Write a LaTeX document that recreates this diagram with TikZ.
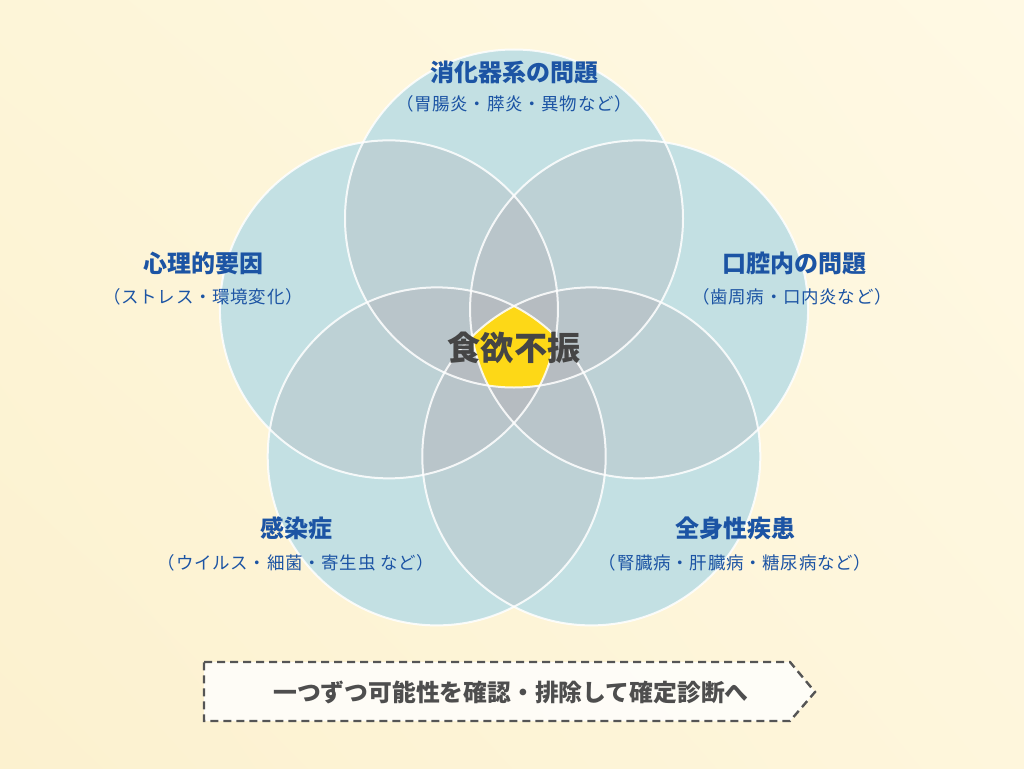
\documentclass[tikz,border=0pt]{standalone}
\usepackage{fontspec}
\setmainfont{Noto Sans CJK JP}
\usepackage{xcolor}
\usetikzlibrary{shadings}
\definecolor{bgTL}{HTML}{FDF5D8}
\definecolor{bgTR}{HTML}{FFF9E4}
\definecolor{bgBL}{HTML}{FCF1CF}
\definecolor{bgBR}{HTML}{FEF6DC}
\definecolor{pBase}{RGB}{202,244,245}
\definecolor{pShade}{RGB}{172,157,164}
\definecolor{pYellow}{HTML}{FDD817}
\definecolor{pBlue}{HTML}{1C54A4}
\definecolor{pGray}{HTML}{454545}
\definecolor{pDash}{HTML}{555555}

\begin{document}
\begin{tikzpicture}[x=1pt,y=-1pt]
    \pgfmathsetmacro{\dist}{131.5}	%centre to circle centre
	\pgfmathsetmacro{\rad}{169}	%circle radius
    \tikzset{
        title/.style={text=pBlue, inner sep=0pt, font=\fontsize{24}{28}\selectfont\bfseries},
        subtitle/.style={text=pBlue, inner sep=0pt, font=\fontsize{17.5}{20}\selectfont\addfontfeature{LetterSpace=4}},
        ring/.style={draw=white, draw opacity=0.85, line width=2pt},
        stepbox/.style={draw=pDash, line width=2.4pt, dash pattern=on 8pt off 5pt, fill=white, fill opacity=0.8},
        steptext/.style={text=pGray!95, inner sep=0pt, font=\fontsize{23.8}{28}\selectfont\bfseries}
    };
    \useasboundingbox (0,0) rectangle (1024,768);
    \shade[upper left=bgTL, upper right=bgTR, lower left=bgBL, lower right=bgBR] (0,0) rectangle (1024,768);

    \coordinate (core) at (514,350);
    \path (core) ++(270:\dist) coordinate (cTop)
          (core) ++(342:\dist) coordinate (cRight)
          (core) ++(54:\dist) coordinate (cLowR)
          (core) ++(126:\dist) coordinate (cLowL)
          (core) ++(198:\dist) coordinate (cLeft);

    \foreach \ctr in {cTop,cRight,cLowR,cLowL,cLeft}
        \fill[pBase] (\ctr) circle[radius=\rad pt];
    \foreach \ctr in {cTop,cRight,cLowR,cLowL,cLeft}
        \fill[pShade, fill opacity=0.22] (\ctr) circle[radius=\rad pt];
    \begin{scope}
        \clip (cTop) circle[radius=\rad pt];
        \clip (cRight) circle[radius=\rad pt];
        \clip (cLowR) circle[radius=\rad pt];
        \clip (cLowL) circle[radius=\rad pt];
        \clip (cLeft) circle[radius=\rad pt];
        \fill[pYellow] (core) circle[radius=90pt];
    \end{scope}
    \foreach \ctr in {cTop,cRight,cLowR,cLowL,cLeft}
        \draw[ring] (\ctr) circle[radius=\rad pt];

    \node[text=pGray, inner sep=0pt, font=\fontsize{33.2}{38}\selectfont\bfseries] (appetite) at (514,348) {食欲不振};

    \node[title] (digest) at (514,72) {消化器系の問題};
    \node[subtitle] (digestSub) at (514,104) {（胃腸炎・膵炎・異物など）};
    \node[title] (mind) at (203,263) {心理的要因};
    \node[subtitle] (mindSub) at (203,297) {（ストレス・環境変化）};
    \node[title] (oral) at (794,263) {口腔内の問題};
    \node[subtitle] (oralSub) at (792,297) {（歯周病・口内炎など）};
    \node[title] (infect) at (296,528) {感染症};
    \node[subtitle] (infectSub) at (296,563) {（ウイルス・細菌・寄生虫 など）};
    \node[title] (illness) at (735,528) {全身性疾患};
    \node[subtitle] (illnessSub) at (735,563) {（腎臓病・肝臓病・糖尿病など）};

    % arrow box below
    \filldraw[stepbox] (204,662) --++(586,0) --++(25,30) --++(-25,29) --++(-586,0) --cycle;
    \node[steptext] (diagnosis) at (511,692) {一つずつ可能性を確認・排除して確定診断へ};
\end{tikzpicture}
\end{document}
